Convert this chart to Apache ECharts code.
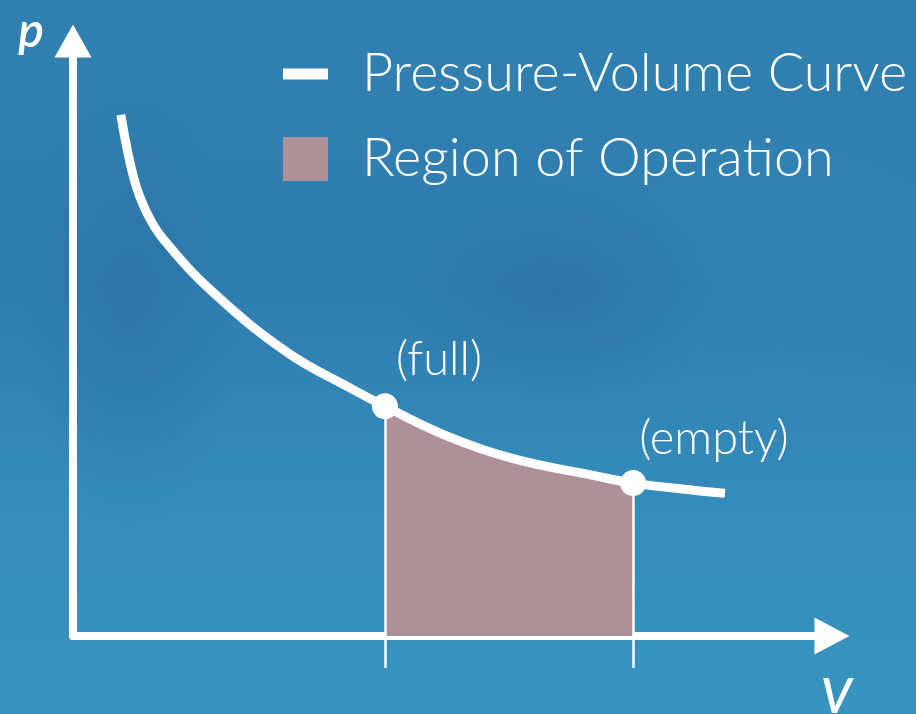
<!DOCTYPE html>
<html>
<head>
<meta charset="utf-8">
<script src="https://cdn.jsdelivr.net/npm/echarts@6/dist/echarts.min.js"></script>
<style>
  html, body { margin: 0; padding: 0; }
  #chart {
    width: 916px;
    height: 714px;
    background:
      radial-gradient(ellipse 170px 110px at 560px 290px, rgba(40, 95, 145, 0.35), rgba(40, 95, 145, 0) 100%),
      radial-gradient(ellipse 110px 220px at 130px 310px, rgba(40, 95, 145, 0.3), rgba(40, 95, 145, 0) 100%),
      radial-gradient(ellipse 300px 160px at 780px 260px, rgba(60, 150, 195, 0.25), rgba(60, 150, 195, 0) 100%),
      linear-gradient(180deg, #3080b0 0%, #2f7daf 40%, #348cba 70%, #3894bf 100%);
  }
</style>
</head>
<body>
<div id="chart"></div>
<script>
// curve: [V, p]
const curveData = [
  [0.63, 8.76], [0.80, 7.70], [0.97, 7.12], [1.19, 6.67],
  [1.85, 5.77], [2.82, 4.77], [3.69, 4.14], [4.11, 3.86], [4.93, 3.36],
  [5.80, 2.98], [6.85, 2.70], [7.38, 2.57], [8.17, 2.45], [8.59, 2.40]
]
// region of operation between full and empty
const regionData = [
  [4.11, 3.86], [4.93, 3.36], [5.80, 2.98], [6.85, 2.70], [7.38, 2.57]
]
const stateNames = ['(full)', '(empty)']
const stateData = [[4.11, 3.86], [7.38, 2.57]]
const seriesNames = ['Pressure-Volume Curve', 'Region of Operation']

const font = 'Lato, "Open Sans", sans-serif'
const chart = echarts.init(document.getElementById('chart'))

chart.setOption({
  backgroundColor: 'transparent',
  animation: false,
  grid: { left: 73, right: 84, top: 41, bottom: 78, outerBoundsMode: 'none' },
  legend: {
    data: [
      { name: seriesNames[0], icon: 'path://M0,0M0,16.5h45v11h-45zM45,44' },
      { name: seriesNames[1], icon: 'rect' }
    ],
    orient: 'vertical',
    left: 278,
    top: 42,
    itemWidth: 45,
    itemHeight: 44,
    itemGap: 31,
    selectedMode: false,
    textStyle: {
      color: '#fff',
      fontFamily: font,
      fontWeight: 300,
      fontSize: 54,
      lineHeight: 44,
      padding: [0, 0, 0, 29]
    }
  },
  xAxis: {
    type: 'value',
    min: 0,
    max: 10,
    name: 'V',
    nameLocation: 'end',
    nameGap: 4,
    nameTextStyle: {
      color: '#fff',
      fontFamily: font,
      fontStyle: 'italic',
      fontWeight: 600,
      fontSize: 48,
      align: 'center',
      verticalAlign: 'top',
      padding: [38, 0, 0, 0]
    },
    axisLine: {
      symbol: ['none', 'triangle'],
      symbolSize: [37, 35],
      lineStyle: { color: '#fff', width: 8 }
    },
    axisTick: {
      show: true,
      customValues: stateData.map(d => d[0]),
      length: 32,
      lineStyle: { color: '#fff', width: 2.5 }
    },
    axisLabel: { show: false },
    splitLine: { show: false }
  },
  yAxis: {
    type: 'value',
    min: 0,
    max: 10,
    name: 'p',
    nameLocation: 'end',
    nameGap: 9,
    nameTextStyle: {
      color: '#fff',
      fontFamily: font,
      fontStyle: 'italic',
      fontWeight: 600,
      fontSize: 48,
      align: 'right',
      verticalAlign: 'middle',
      padding: [0, 29, 0, 0]
    },
    axisLine: {
      symbol: ['none', 'triangle'],
      symbolSize: [37, 33],
      lineStyle: { color: '#fff', width: 8 }
    },
    axisTick: { show: false },
    axisLabel: { show: false },
    splitLine: { show: false }
  },
  series: [
    {
      name: seriesNames[1],
      type: 'line',
      data: regionData,
      smooth: 0.4,
      symbol: 'none',
      z: 1,
      lineStyle: { width: 0 },
      itemStyle: { color: '#ae9099' },
      areaStyle: { color: '#ae9099', opacity: 1, origin: 0 },
      markLine: {
        silent: true,
        symbol: ['none', 'none'],
        label: { show: false },
        lineStyle: { color: '#fff', width: 2.5, type: 'solid' },
        data: stateData.map(d => [{ coord: [d[0], 0] }, { coord: [d[0], d[1]] }])
      }
    },
    {
      name: seriesNames[0],
      type: 'line',
      data: curveData,
      smooth: 0.4,
      symbol: 'none',
      z: 3,
      lineStyle: { color: '#fff', width: 9 },
      itemStyle: { color: '#fff' }
    },
    {
      name: 'states',
      type: 'scatter',
      data: stateData.map((d, i) => ({ value: d, name: stateNames[i] })),
      symbolSize: 26,
      z: 4,
      itemStyle: { color: '#fff', opacity: 1 },
      label: {
        show: true,
        formatter: '{b}',
        position: 'top',
        align: 'left',
        distance: 8,
        color: '#fff',
        fontFamily: font,
        fontWeight: 300,
        fontSize: 47
      },
      labelLayout: function (params) {
        return params.dataIndex === 0 ? { dx: 11, dy: -2 } : { dx: 6, dy: 0 }
      }
    }
  ]
})
</script>
</body>
</html>
